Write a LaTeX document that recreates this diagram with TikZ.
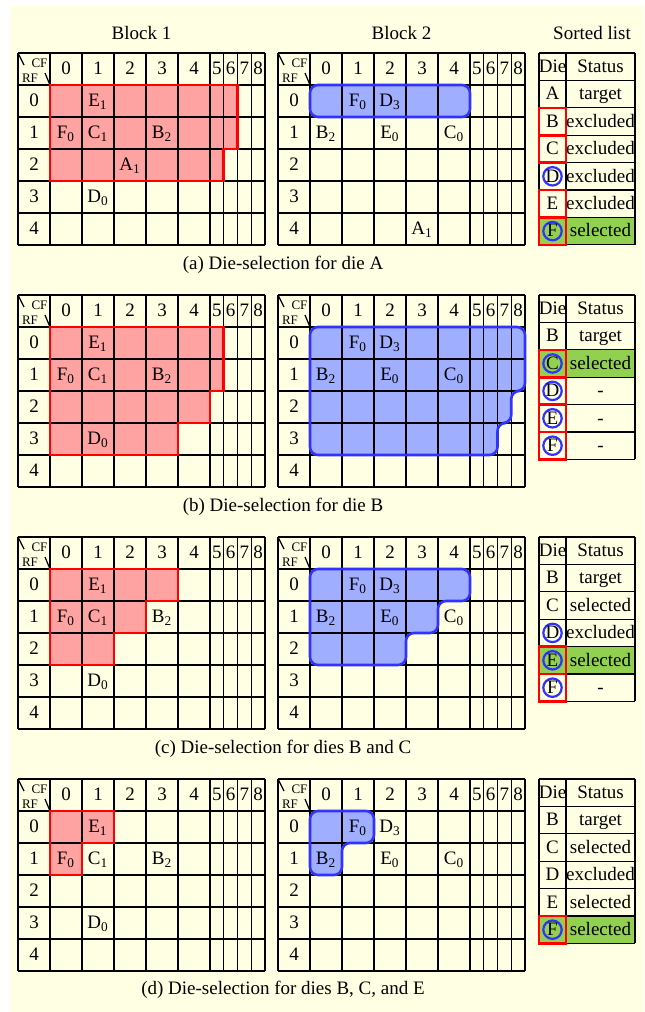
\documentclass[tikz,border=0pt]{standalone}
\usepackage{fontspec}
\setmainfont{Liberation Serif}
\definecolor{paper}{RGB}{255,255,228}
\definecolor{redsel}{RGB}{255,162,162}
\definecolor{bluesel}{RGB}{160,174,255}
\definecolor{blueline}{RGB}{50,50,255}
\definecolor{greensel}{RGB}{146,208,80}

\begin{document}
\begin{tikzpicture}[x=0.5pt,y=-0.5pt,
  font=\fontsize{9.5}{11}\selectfont,
  every node/.append style={text height=1.5ex,text depth=0.25ex},
  gridline/.style={line width=0.6pt},
  redarea/.style={draw=red,line width=1.3pt},
  bluearea/.style={draw=blueline,line width=1.3pt,rounded corners=4pt},
  redbox/.style={draw=red,line width=1.3pt},
  ring/.style={draw=blueline,line width=1.1pt},
  tiny/.style={font=\fontsize{6.5}{8}\selectfont,inner sep=0pt}]

\useasboundingbox (0,0) rectangle (644,1012);
\fill[white] (0,0) rectangle (644,1012);
\fill[paper] (10,6) rectangle (644,1012);

% selected areas, panels (a)-(d)
\def\redA{(50,85) -| (237.5,149) -| (223.75,181) -- (50,181) -- cycle}
\def\redB{(50,327) -| (223.75,391) -| (210,423) -| (178,455) -- (50,455) -- cycle}
\def\redC{(50,569) -| (178,601) -| (146,633) -| (114,665) -- (50,665) -- cycle}
\def\redD{(50,811) -| (114,843) -| (82,875) -- (50,875) -- cycle}
\def\blueA{(310,85) -| (470,117) -- (310,117) -- cycle}
\def\blueB{(310,327) -| (525,391) -| (511.25,423) -| (497.5,455) -- (310,455) -- cycle}
\def\blueC{(310,569) -| (470,601) -| (438,633) -| (406,665) -- (310,665) -- cycle}
\def\blueD{(310,811) -| (374,843) -| (342,875) -- (310,875) -- cycle}
\foreach \p in {\redA,\redB,\redC,\redD} \fill[redsel] \p;
\foreach \p in {\blueA,\blueB,\blueC,\blueD} \fill[bluesel,rounded corners=4pt] \p;

% the two blocks
\foreach \T in {53,295,537,779} \foreach \X in {18,278} {
  \foreach \k in {0,...,6} \draw[gridline] (\X,\T+32*\k) -- ++(247,0);
  \foreach \c in {0,32,64,96,128,160,192,205.75,219.5,233.25,247}
    \draw[gridline] (\X+\c,\T) -- ++(0,192);
  \draw[gridline] (\X+0.5,\T+1) -- (\X+6,\T+12) (\X+27,\T+20) -- (\X+32,\T+32);
  \node[tiny] (cf-\T-\X) at (\X+21.5,\T+9) {CF};
  \node[tiny] (rf-\T-\X) at (\X+12,\T+24) {RF};
  \foreach \i in {0,...,4} {
    \node (c\i-\T-\X) at (\X+48+32*\i,\T+16) {\i};
    \node (r\i-\T-\X) at (\X+16,\T+48+32*\i) {\i};
  }
  \foreach \i in {5,...,8} \node (c\i-\T-\X) at (\X+130.125+13.75*\i,\T+16) {\i};
}

\foreach \p in {\redA,\redB,\redC,\redD} \draw[redarea] \p;
\foreach \p in {\blueA,\blueB,\blueC,\blueD} \draw[bluearea] \p;

% dies in the blocks
\foreach \T in {53,295,537,779} {
  \node (e1-\T) at (98,\T+48) {E\textsubscript{1}};
  \node (f0-\T) at (66,\T+80) {F\textsubscript{0}};
  \node (c1-\T) at (98,\T+80) {C\textsubscript{1}};
  \node (b2-\T) at (162,\T+80) {B\textsubscript{2}};
  \node (d0-\T) at (98,\T+144) {D\textsubscript{0}};
  \node (f0b-\T) at (358,\T+48) {F\textsubscript{0}};
  \node (d3b-\T) at (390,\T+48) {D\textsubscript{3}};
  \node (b2b-\T) at (326,\T+80) {B\textsubscript{2}};
  \node (e0b-\T) at (390,\T+80) {E\textsubscript{0}};
  \node (c0b-\T) at (454,\T+80) {C\textsubscript{0}};
}
\node (a1) at (130,165) {A\textsubscript{1}};
\node (a1b) at (422,229) {A\textsubscript{1}};

% titles and captions
\node (title1) at (141.5,34) {Block 1};
\node (title2) at (401.5,34) {Block 2};
\node (title3) at (592,34) {Sorted list};
\node (capa) at (283,264) {(a) Die-selection for die A};
\node (capb) at (283,506) {(b) Die-selection for die B};
\node (capc) at (283,748) {(c) Die-selection for dies B and C};
\node (capd) at (283,989) {(d) Die-selection for dies B, C, and E};

% sorted lists
\fill[greensel] (539,217.4) rectangle ++(96,27.4);
\fill[greensel] (539,349.8) rectangle ++(96,27.4);
\fill[greensel] (539,646.6) rectangle ++(96,27.4);
\fill[greensel] (539,916) rectangle ++(96,27.4);
\foreach \T/\n in {53/7,295/6,537/6,779/6} {
  \foreach \k in {0,...,\n} \draw[gridline] (539,\T+27.4*\k) -- (635,\T+27.4*\k);
  \foreach \x in {539,566,635} \draw[gridline] (\x,\T) -- (\x,\T+27.4*\n);
  \node (die-\T) at (552.5,\T+13.7) {Die};
  \node (status-\T) at (600.5,\T+13.7) {Status};
}
\foreach \i in {2,3,5,6} \draw[redbox] (539,53+27.4*\i) rectangle ++(27,27.4);
\foreach \i in {2,3,4,5} \draw[redbox] (539,295+27.4*\i) rectangle ++(27,27.4);
\foreach \i in {4,5} \draw[redbox] (539,537+27.4*\i) rectangle ++(27,27.4);
\draw[redbox] (539,916) rectangle ++(27,27.4);
\foreach \i in {4,6} \draw[ring] (552.5,66.7+27.4*\i) circle[radius=4.6pt];
\foreach \i in {2,3,4,5} \draw[ring] (552.5,308.7+27.4*\i) circle[radius=4.6pt];
\foreach \i in {3,4,5} \draw[ring] (552.5,550.7+27.4*\i) circle[radius=4.6pt];
\draw[ring] (552.5,929.7) circle[radius=4.6pt];

\foreach \i/\d/\s in {1/A/target,2/B/excluded,3/C/excluded,4/D/excluded,5/E/excluded,6/F/selected} {
  \node (a-\d) at (552.5,66.7+27.4*\i) {\d};
  \node (a-\d-st) at (600.5,66.7+27.4*\i) {\s};
}
\foreach \i/\d/\s in {1/B/target,2/C/selected,3/D/-,4/E/-,5/F/-} {
  \node (b-\d) at (552.5,308.7+27.4*\i) {\d};
  \node (b-\d-st) at (600.5,308.7+27.4*\i) {\s};
}
\foreach \i/\d/\s in {1/B/target,2/C/selected,3/D/excluded,4/E/selected,5/F/-} {
  \node (c-\d) at (552.5,550.7+27.4*\i) {\d};
  \node (c-\d-st) at (600.5,550.7+27.4*\i) {\s};
}
\foreach \i/\d/\s in {1/B/target,2/C/selected,3/D/excluded,4/E/selected,5/F/selected} {
  \node (d-\d) at (552.5,792.7+27.4*\i) {\d};
  \node (d-\d-st) at (600.5,792.7+27.4*\i) {\s};
}
\end{tikzpicture}
\end{document}
